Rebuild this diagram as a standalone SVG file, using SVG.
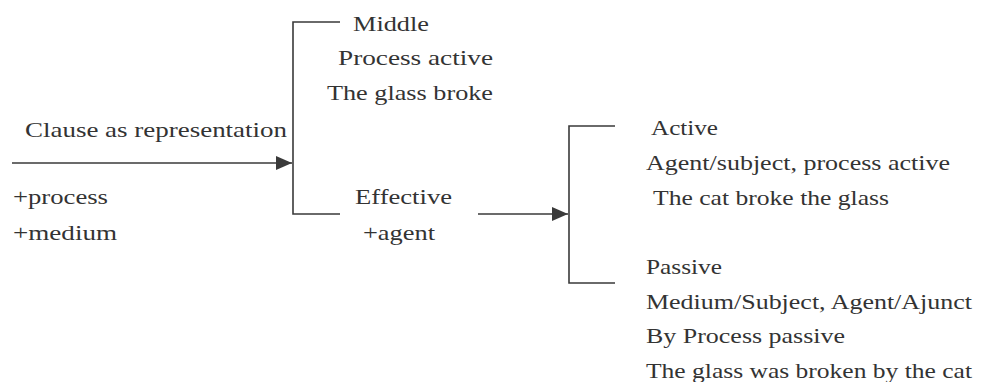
<svg xmlns="http://www.w3.org/2000/svg" width="1000" height="382" viewBox="0 0 1000 382" font-family="Liberation Serif, DejaVu Serif, serif" font-size="22" fill="#333">
<style>
.ln{stroke:#3a3a3a;stroke-width:1.6;fill:none;}
</style>
<defs>
<marker id="ah" viewBox="0 0 16 14" refX="16" refY="7" markerWidth="16" markerHeight="14" markerUnits="userSpaceOnUse" orient="auto">
<path d="M0,0 L16,7 L0,14 Z" fill="#3a3a3a"/>
</marker>
</defs>
<rect width="1000" height="382" fill="#fff"/>
<g id="connectors">
<line class="ln" x1="12" y1="163" x2="292" y2="163" marker-end="url(#ah)"/>
<polyline class="ln" points="340,22 293,22 293,214 340,214"/>
<line class="ln" x1="478" y1="214" x2="568" y2="214" marker-end="url(#ah)"/>
<polyline class="ln" points="615,126 569,126 569,283 615,283"/>
</g>
<g id="clause">
<text x="25" y="137" textLength="262" lengthAdjust="spacingAndGlyphs">Clause as representation</text>
<text x="13" y="204" textLength="95" lengthAdjust="spacingAndGlyphs">+process</text>
<text x="13" y="240" textLength="104" lengthAdjust="spacingAndGlyphs">+medium</text>
</g>
<g id="middle">
<text x="353" y="31" textLength="76" lengthAdjust="spacingAndGlyphs">Middle</text>
<text x="338" y="65" textLength="155" lengthAdjust="spacingAndGlyphs">Process active</text>
<text x="327" y="100" textLength="166" lengthAdjust="spacingAndGlyphs">The glass broke</text>
</g>
<g id="effective">
<text x="355" y="204" textLength="97" lengthAdjust="spacingAndGlyphs">Effective</text>
<text x="363" y="240" textLength="72" lengthAdjust="spacingAndGlyphs">+agent</text>
</g>
<g id="active">
<text x="651" y="135" textLength="67" lengthAdjust="spacingAndGlyphs">Active</text>
<text x="646" y="170" textLength="304" lengthAdjust="spacingAndGlyphs">Agent/subject, process active</text>
<text x="653" y="205" textLength="236" lengthAdjust="spacingAndGlyphs">The cat broke the glass</text>
</g>
<g id="passive">
<text x="646" y="274" textLength="76" lengthAdjust="spacingAndGlyphs">Passive</text>
<text x="646" y="309" textLength="326" lengthAdjust="spacingAndGlyphs">Medium/Subject, Agent/Ajunct</text>
<text x="646" y="343" textLength="199" lengthAdjust="spacingAndGlyphs">By Process passive</text>
<text x="646" y="378" textLength="326" lengthAdjust="spacingAndGlyphs">The glass was broken by the cat</text>
</g>
</svg>
